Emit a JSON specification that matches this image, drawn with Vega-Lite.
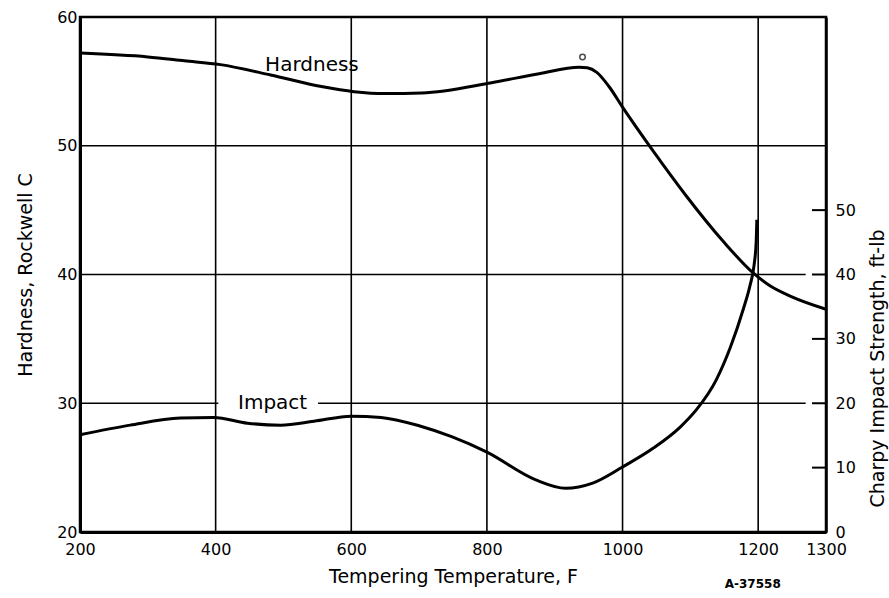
{
  "$schema": "https://vega.github.io/schema/vega-lite/v6.json",
  "width": 746,
  "height": 515,
  "autosize": {"type": "none"},
  "padding": {"left": 80, "top": 17, "right": 63, "bottom": 66},
  "background": "white",
  "config": {
    "view": {"stroke": "black", "strokeWidth": 2.5},
    "font": "DejaVu Sans",
    "axis": {"labelColor": "black", "titleColor": "black", "domainColor": "black", "tickColor": "black", "grid": false}
  },
  "datasets": {
    "hardness": [
      {"T": 200, "H": 57.2}, {"T": 300, "H": 56.9}, {"T": 354, "H": 56.6}, {"T": 407, "H": 56.3},
      {"T": 481, "H": 55.5}, {"T": 556, "H": 54.6}, {"T": 604, "H": 54.2}, {"T": 650, "H": 54.05},
      {"T": 704, "H": 54.1}, {"T": 807, "H": 54.9}, {"T": 877, "H": 55.6}, {"T": 936, "H": 56.1},
      {"T": 948, "H": 56.05}, {"T": 962, "H": 55.7}, {"T": 980, "H": 54.6}, {"T": 1000, "H": 53.0},
      {"T": 1045, "H": 49.6}, {"T": 1094, "H": 46.1}, {"T": 1148, "H": 42.6}, {"T": 1193, "H": 40.1},
      {"T": 1218, "H": 39.1}, {"T": 1248, "H": 38.3}, {"T": 1300, "H": 37.3}
    ],
    "impact": [
      {"T": 200, "I": 15.1}, {"T": 274, "I": 16.6}, {"T": 348, "I": 17.7}, {"T": 397, "I": 17.8},
      {"T": 447, "I": 16.9}, {"T": 496, "I": 16.6}, {"T": 545, "I": 17.2}, {"T": 600, "I": 18.0},
      {"T": 644, "I": 17.8}, {"T": 700, "I": 16.5}, {"T": 748, "I": 14.8}, {"T": 800, "I": 12.4},
      {"T": 872, "I": 8.1}, {"T": 916, "I": 6.8}, {"T": 956, "I": 7.6}, {"T": 1000, "I": 10.1},
      {"T": 1045, "I": 13.0}, {"T": 1085, "I": 16.3}, {"T": 1109, "I": 19.0}, {"T": 1138, "I": 23.6},
      {"T": 1159, "I": 28.7}, {"T": 1178, "I": 34.6}, {"T": 1188, "I": 38.3}, {"T": 1194, "I": 41.5},
      {"T": 1197, "I": 45.0}, {"T": 1198, "I": 48.5}
    ],
    "rticks": [{"I": 10}, {"I": 20}, {"I": 30}, {"I": 40}, {"I": 50}],
    "vgrid": [{"T": 400}, {"T": 600}, {"T": 800}, {"T": 1000}, {"T": 1200}],
    "hgrid": [
      {"H": 50, "T1": 200, "T2": 1300},
      {"H": 40, "T1": 200, "T2": 1270},
      {"H": 30, "T1": 200, "T2": 404},
      {"H": 30, "T1": 551, "T2": 1270}
    ],
    "labels": [
      {"T": 542, "H": 56.27, "text": "Hardness"},
      {"T": 484, "H": 30.05, "text": "Impact"}
    ],
    "note": [{"T": 1192, "H": 16.0, "text": "A-37558"}],
    "marker": [{"T": 941, "H": 56.9}]
  },
  "layer": [
    {
      "layer": [
        {
          "data": {"name": "vgrid"},
          "mark": {"type": "rule", "color": "black", "strokeWidth": 1.6},
          "encoding": {
            "x": {
              "field": "T", "type": "quantitative",
              "scale": {"domain": [200, 1300], "nice": false, "zero": false},
              "axis": {
                "values": [200, 400, 600, 800, 1000, 1200, 1300], "format": "d",
                "ticks": false, "domainWidth": 3, "labelFontSize": 16, "labelPadding": 9,
                "labelFlush": false,
                "title": "Tempering   Temperature, F", "titleFontSize": 19, "titleFontWeight": "normal",
                "titlePadding": 10
              }
            },
            "y": {"datum": 20, "type": "quantitative", "scale": {"domain": [20, 60], "nice": false, "zero": false},
              "axis": {
                "values": [20, 30, 40, 50, 60], "ticks": false, "domainWidth": 3, "labelFontSize": 16,
                "labelPadding": 3, "title": "Hardness, Rockwell  C", "titleFontSize": 19,
                "titleFontWeight": "normal", "titlePadding": 21
              }},
            "y2": {"datum": 60}
          }
        },
        {
          "data": {"name": "hgrid"},
          "mark": {"type": "rule", "color": "black", "strokeWidth": 1.6},
          "encoding": {
            "x": {"field": "T1", "type": "quantitative"},
            "x2": {"field": "T2"},
            "y": {"field": "H", "type": "quantitative"}
          }
        },
        {
          "data": {"name": "hardness"},
          "mark": {"type": "line", "color": "black", "strokeWidth": 3, "interpolate": "monotone"},
          "encoding": {"x": {"field": "T", "type": "quantitative"}, "y": {"field": "H", "type": "quantitative"}}
        },
        {
          "data": {"name": "marker"},
          "mark": {"type": "point", "shape": "circle", "filled": false, "color": "black", "size": 30, "strokeWidth": 1.5},
          "encoding": {"x": {"field": "T", "type": "quantitative"}, "y": {"field": "H", "type": "quantitative"}}
        },
        {
          "data": {"name": "labels"},
          "mark": {"type": "text", "fontSize": 20, "color": "black", "align": "center", "baseline": "middle"},
          "encoding": {"x": {"field": "T", "type": "quantitative"}, "y": {"field": "H", "type": "quantitative"}, "text": {"field": "text"}}
        },
        {
          "data": {"name": "note"},
          "mark": {"type": "text", "fontSize": 12, "fontWeight": "bold", "color": "black", "align": "center", "baseline": "middle"},
          "encoding": {"x": {"field": "T", "type": "quantitative"}, "y": {"field": "H", "type": "quantitative"}, "text": {"field": "text"}}
        }
      ]
    },
    {
      "layer": [
        {
          "data": {"name": "impact"},
          "mark": {"type": "line", "color": "black", "strokeWidth": 3, "interpolate": "monotone"},
          "encoding": {
            "x": {"field": "T", "type": "quantitative"},
            "y": {
              "field": "I", "type": "quantitative",
              "scale": {"domain": [0, 80], "nice": false, "zero": false},
              "axis": {
                "orient": "right", "values": [0, 10, 20, 30, 40, 50], "ticks": false,
                "domainWidth": 2.5, "labelFontSize": 16, "labelPadding": 9,
                "title": "Charpy  Impact  Strength,  ft-lb", "titleFontSize": 19, "titleFontWeight": "normal",
                "titleAngle": 270, "titleY": 351, "titleX": 51, "titleAlign": "center", "titleBaseline": "middle"
              }
            }
          }
        },
        {
          "data": {"name": "rticks"},
          "mark": {"type": "rule", "color": "black", "strokeWidth": 2},
          "encoding": {
            "x": {"datum": 1279.3, "type": "quantitative"},
            "x2": {"datum": 1300},
            "y": {"field": "I", "type": "quantitative"}
          }
        }
      ]
    }
  ],
  "resolve": {"scale": {"y": "independent"}}
}
